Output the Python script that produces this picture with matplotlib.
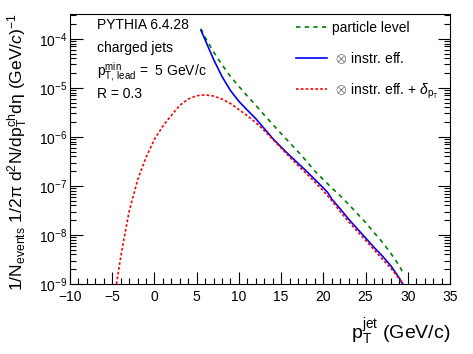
import numpy as np
import matplotlib
matplotlib.use("Agg")
import matplotlib.pyplot as plt
from matplotlib.ticker import MultipleLocator, LogLocator, NullFormatter

plt.rcParams['font.family'] = ['Liberation Sans', 'DejaVu Sans']
plt.rcParams['mathtext.fontset'] = 'custom'
plt.rcParams['mathtext.rm'] = 'Liberation Sans'
plt.rcParams['mathtext.it'] = 'Liberation Sans:italic'
plt.rcParams['mathtext.bf'] = 'Liberation Sans:bold'

# particle level (green dashed)
pt_part = [5.5, 6, 7, 8, 9, 10, 11, 12, 13, 14, 15, 16, 17, 18, 19, 20,
           21, 22, 23, 24, 25, 26, 27, 28, 29, 29.5]
y_part = [1.6e-4, 1.07e-4, 5.4e-5, 2.95e-5, 1.7e-5, 1.07e-5, 6.8e-6, 4.4e-6,
          2.8e-6, 1.8e-6, 1.17e-6, 7.6e-7, 5.0e-7, 3.2e-7, 2.0e-7, 1.35e-7,
          9.1e-8, 6.3e-8, 4.2e-8, 2.75e-8, 1.8e-8, 1.12e-8, 7.1e-9, 4.2e-9,
          2.35e-9, 1.6e-9]

# x instr. eff. (blue solid)
pt_eff = [5.5, 6, 7, 8, 9, 10, 11, 12, 13, 14, 15, 16, 17, 18, 19, 20, 20.5,
          21, 22, 23, 24, 25, 26, 27, 28, 29, 29.4]
y_eff = [1.5e-4, 9.5e-5, 3.8e-5, 1.7e-5, 8.8e-6, 5.3e-6, 3.5e-6, 2.35e-6,
         1.48e-6, 9.3e-7, 6.2e-7, 4.2e-7, 2.9e-7, 2.0e-7, 1.35e-7, 9.1e-8,
         7.4e-8, 5.4e-8, 3.4e-8, 2.1e-8, 1.35e-8, 8.7e-9, 5.6e-9, 3.7e-9,
         2.35e-9, 1.32e-9, 1.0e-9]

# x instr. eff. + delta pT (red dotted)
pt_fluc = [-4.5, -4, -3.5, -3, -2, -1, 0, 1, 2, 3, 4, 5, 6, 7, 8, 9, 10, 11,
           12, 13, 14, 15, 16, 17, 18, 19, 20, 21, 22, 23, 24, 25, 26, 27, 28,
           29, 29.5]
y_fluc = [1.0e-9, 3.5e-9, 1.05e-8, 3.0e-8, 1.32e-7, 3.8e-7, 8.9e-7, 1.66e-6,
          2.75e-6, 4.4e-6, 5.9e-6, 6.9e-6, 7.2e-6, 6.8e-6, 5.9e-6, 4.8e-6,
          3.6e-6, 2.7e-6, 1.95e-6, 1.35e-6, 8.9e-7, 5.9e-7, 3.9e-7, 2.6e-7,
          1.78e-7, 1.2e-7, 7.9e-8, 5.0e-8, 3.0e-8, 1.86e-8, 1.2e-8, 7.8e-9,
          5.0e-9, 3.2e-9, 2.1e-9, 1.26e-9, 9.5e-10]

labels = ["particle level", r" $\otimes$ instr. eff.",
          r" $\otimes$ instr. eff. + $\delta_{\mathrm{p}_{\mathrm{T}}}$"]

fig = plt.figure(figsize=(4.73, 3.54), dpi=100)
ax = fig.add_axes([70/473, 1-284/354, 380/473, 270/354])

ax.plot(pt_part, y_part, color='#007f00', lw=1.2, dashes=(2.6, 2.6), label=labels[0])
ax.plot(pt_eff, y_eff, color='#0000ff', lw=1.2, label=labels[1])
ax.plot(pt_fluc, y_fluc, color='#ff0000', lw=1.2, dashes=(1.6, 1.3), label=labels[2])

ax.set_yscale('log')
ax.set_xlim(-10, 35)
ax.set_ylim(1e-9, 3.2e-4)
ax.xaxis.set_major_locator(MultipleLocator(5))
ax.xaxis.set_minor_locator(MultipleLocator(1))
ax.yaxis.set_major_locator(LogLocator(base=10, numticks=20))
ax.yaxis.set_minor_locator(LogLocator(base=10, subs=np.arange(2, 10), numticks=20))
ax.yaxis.set_minor_formatter(NullFormatter())
ax.tick_params(which='both', direction='in', top=False, right=True, labelsize=10, width=0.8)
ax.tick_params(which='major', length=9)
ax.tick_params(which='minor', length=4.5)
ax.tick_params(axis='x', pad=4)
ax.tick_params(axis='y', pad=2)
for s in ax.spines.values():
    s.set_linewidth(0.8)

ax.text(1.0, -0.18, r"$\mathrm{p}_{\mathrm{T}}^{\mathrm{jet}}$ (GeV/c)", transform=ax.transAxes,
        ha='right', va='center', fontsize=14)
fig.text(0.038, 0.57,
         r"1/N$_{\mathrm{events}}$ 1/2$\mathrm{\pi}$ d$^{2}$N/dp$_{\mathrm{T}}^{\mathrm{ch}}$d$\mathrm{\eta}$ (GeV/$\mathit{c}$)$^{-1}$",
         rotation=90, ha='center', va='center', fontsize=12.6)

ax.text(0.071, 0.959, "PYTHIA 6.4.28", transform=ax.transAxes, va='center', fontsize=10)
ax.text(0.071, 0.874, "charged jets", transform=ax.transAxes, va='center', fontsize=10)
ax.text(0.071, 0.785, r"p$_{\mathrm{T,\,lead}}^{\mathrm{min}}$ =  5 GeV/c", transform=ax.transAxes,
        va='center', fontsize=10)
ax.text(0.071, 0.704, "R = 0.3", transform=ax.transAxes, va='center', fontsize=10)

ax.legend(loc='upper left', bbox_to_anchor=(0.58, 0.995), frameon=False, fontsize=10,
          handlelength=2.2, handletextpad=0.4, labelspacing=1.12, borderaxespad=0)

fig.savefig("out.png", dpi=100)
